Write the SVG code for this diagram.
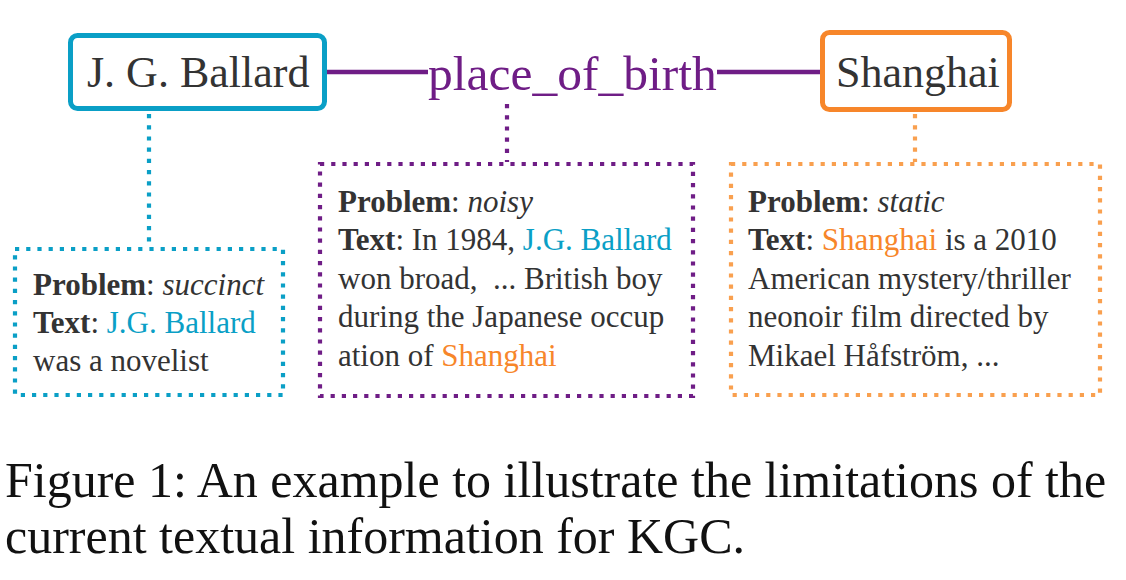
<svg xmlns="http://www.w3.org/2000/svg" width="1126" height="580" viewBox="0 0 1126 580">
<style>
text{font-family:"Liberation Serif","Times New Roman",serif;fill:#333333}
.ent{font-size:44px}
.body{font-size:31px}
.b{font-weight:bold}
.i{font-style:italic}
.blue{fill:#0a9fc6}
.orange{fill:#f7862a}
.dot{fill:none;stroke-width:4.2;stroke-dasharray:4.2 7}
.cap{font-size:50px;fill:#111111}
</style>
<rect width="1126" height="580" fill="#ffffff"/>
<g id="connectors">
  <line x1="327" y1="72" x2="428" y2="72" stroke="#6f1d86" stroke-width="4.5"/>
  <line x1="717" y1="72" x2="822" y2="72" stroke="#6f1d86" stroke-width="4.5"/>
  <line x1="149" y1="114" x2="149" y2="247" class="dot" stroke="#0a9fc6"/>
  <line x1="507" y1="104" x2="507" y2="162" class="dot" stroke="#6f1d86"/>
  <line x1="915" y1="114" x2="915" y2="162" class="dot" stroke="#f9a04f"/>
</g>
<g id="relation">
  <text x="428" y="90" style="font-size:49.5px;fill:#6f1d86">place_of_birth</text>
</g>
<g id="ballard">
  <rect x="70.5" y="35.5" width="254" height="73" rx="7" fill="#ffffff" stroke="#0a9fc6" stroke-width="5"/>
  <text x="87" y="87" class="ent">J. G. Ballard</text>
</g>
<g id="shanghai">
  <rect x="822.5" y="32.5" width="187" height="77" rx="7" fill="#ffffff" stroke="#f7862a" stroke-width="5"/>
  <text x="836" y="87" class="ent">Shanghai</text>
</g>
<g id="box-succinct">
  <rect x="15" y="249" width="268" height="146" class="dot" stroke="#0a9fc6"/>
  <text class="body" x="33" y="295"><tspan class="b">Problem</tspan>: <tspan class="i">succinct</tspan></text>
  <text class="body" x="33" y="333"><tspan class="b">Text</tspan>: <tspan class="blue">J.G. Ballard</tspan></text>
  <text class="body" x="33" y="371">was a novelist</text>
</g>
<g id="box-noisy">
  <rect x="320" y="164" width="373" height="232" class="dot" stroke="#6f1d86"/>
  <text class="body" x="338" y="212"><tspan class="b">Problem</tspan>: <tspan class="i">noisy</tspan></text>
  <text class="body" x="338" y="250"><tspan class="b">Text</tspan>: In 1984, <tspan class="blue">J.G. Ballard</tspan></text>
  <text class="body" x="338" y="289" xml:space="preserve">won broad,  ... British boy</text>
  <text class="body" x="338" y="327">during the Japanese occup</text>
  <text class="body" x="338" y="366">ation of <tspan class="orange">Shanghai</tspan></text>
</g>
<g id="box-static">
  <rect x="731" y="164" width="369" height="231" class="dot" stroke="#f9a04f"/>
  <text class="body" x="748" y="212"><tspan class="b">Problem</tspan>: <tspan class="i">static</tspan></text>
  <text class="body" x="748" y="250"><tspan class="b">Text</tspan>: <tspan class="orange">Shanghai</tspan> is a 2010</text>
  <text class="body" x="748" y="289">American mystery/thriller</text>
  <text class="body" x="748" y="327">neonoir film directed by</text>
  <text class="body" x="748" y="366">Mikael Håfström, ...</text>
</g>
<g id="caption">
  <text class="cap" x="5" y="497">Figure 1: An example to illustrate the limitations of the</text>
  <text class="cap" x="5" y="553">current textual information for KGC.</text>
</g>
</svg>
